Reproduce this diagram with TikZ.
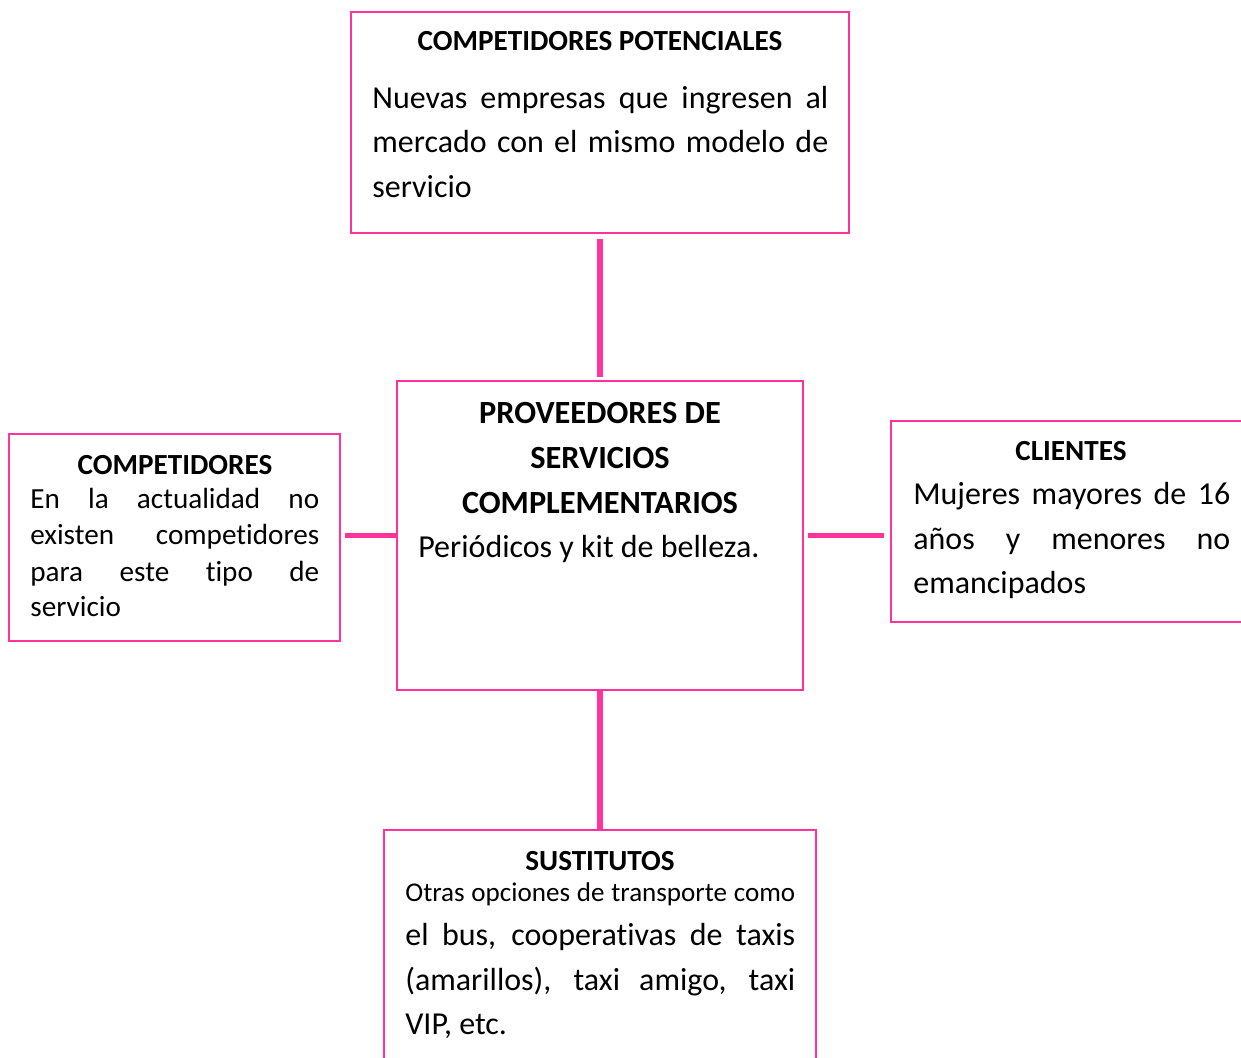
\documentclass[tikz,border=0pt]{standalone}
\usepackage{fontspec}
\setmainfont{Carlito}[Ligatures=NoCommon]
\definecolor{rosa}{RGB}{255,51,153}
\newcommand{\linea}[2]{\makebox[#1][s]{#2}}

\begin{document}
\begin{tikzpicture}[x=0.02cm,y=-0.02cm,
  caja/.style={draw=rosa,line width=1.1pt,inner sep=0pt},
  conector/.style={draw=rosa,line width=3.2pt},
  texto/.style={inner sep=0pt,anchor=base west,font=\fontsize{18.2}{22}\selectfont},
  chico/.style={inner sep=0pt,anchor=base west,font=\fontsize{16.6}{20}\selectfont},
  menor/.style={inner sep=0pt,anchor=base west,font=\fontsize{15.4}{19}\selectfont},
  titulo/.style={inner sep=0pt,anchor=base,font=\bfseries\fontsize{16.6}{20}\selectfont},
  titulog/.style={inner sep=0pt,anchor=base,font=\bfseries\fontsize{18.4}{22}\selectfont}]
  \clip (0,0) rectangle (1241,1058);
  \fill[white] (0,0) rectangle (1241,1058);
  % cajas
  \node[caja,minimum width=9.96cm,minimum height=4.42cm] (potenciales) at (600,122.5) {};
  \node[caja,minimum width=8.12cm,minimum height=6.18cm] (proveedores) at (600,535.5) {};
  \node[caja,minimum width=6.62cm,minimum height=4.14cm] (competidores) at (174.5,537.5) {};
  \node[caja,minimum width=7.58cm,minimum height=4.02cm] (clientes) at (1080.5,521.5) {};
  \node[caja,minimum width=8.64cm,minimum height=5cm] (sustitutos) at (600,955) {};
  % conectores
  \draw[conector,shorten <=0.1cm,shorten >=0.06cm] (potenciales.south) -- (proveedores.north);
  \draw[conector] (proveedores.south) -- (sustitutos.north);
  \draw[conector,shorten <=0.08cm] (competidores.east |- proveedores.west) -- (proveedores.west);
  \draw[conector,shorten <=0.08cm,shorten >=0.12cm] (proveedores.east) -- (proveedores.east -| clientes.west);
  % competidores potenciales
  \node[titulo] (t1) at (600,51) {COMPETIDORES POTENCIALES};
  \node[texto] (p1) at (372,108) {\linea{9.12cm}{Nuevas empresas que ingresen al}};
  \node[texto] (p2) at (372,152) {\linea{9.12cm}{mercado con el mismo modelo de}};
  \node[texto] (p3) at (372,197) {servicio};
  % proveedores
  \node[titulog] (t2) at (600,423) {PROVEEDORES DE};
  \node[titulog] (t3) at (600,468) {SERVICIOS};
  \node[titulog] (t4) at (600,513) {COMPLEMENTARIOS};
  \node[texto] (v1) at (418,557) {Periódicos y kit de belleza.};
  % competidores
  \node[titulo] (t5) at (175,474) {COMPETIDORES};
  \node[chico] (c1) at (30,508) {\linea{5.78cm}{En la actualidad no}};
  \node[chico] (c2) at (30,544) {\linea{5.78cm}{existen competidores}};
  \node[chico] (c3) at (30,581) {\linea{5.78cm}{para este tipo de}};
  \node[chico] (c4) at (30,616) {servicio};
  % clientes
  \node[titulo] (t6) at (1071,460) {CLIENTES};
  \node[texto] (l1) at (913,504) {\linea{6.34cm}{Mujeres mayores de 16}};
  \node[texto] (l2) at (913,549) {\linea{6.34cm}{años y menores no}};
  \node[texto] (l3) at (913,593) {emancipados};
  % sustitutos
  \node[titulo] (t7) at (600,870) {SUSTITUTOS};
  \node[menor] (s1) at (405,901) {\linea{7.8cm}{Otras opciones de transporte como}};
  \node[texto] (s2) at (405,945) {\linea{7.8cm}{el bus, cooperativas de taxis}};
  \node[texto] (s3) at (405,990) {\linea{7.8cm}{(amarillos), taxi amigo, taxi}};
  \node[texto] (s4) at (405,1034) {VIP, etc.};
\end{tikzpicture}
\end{document}
